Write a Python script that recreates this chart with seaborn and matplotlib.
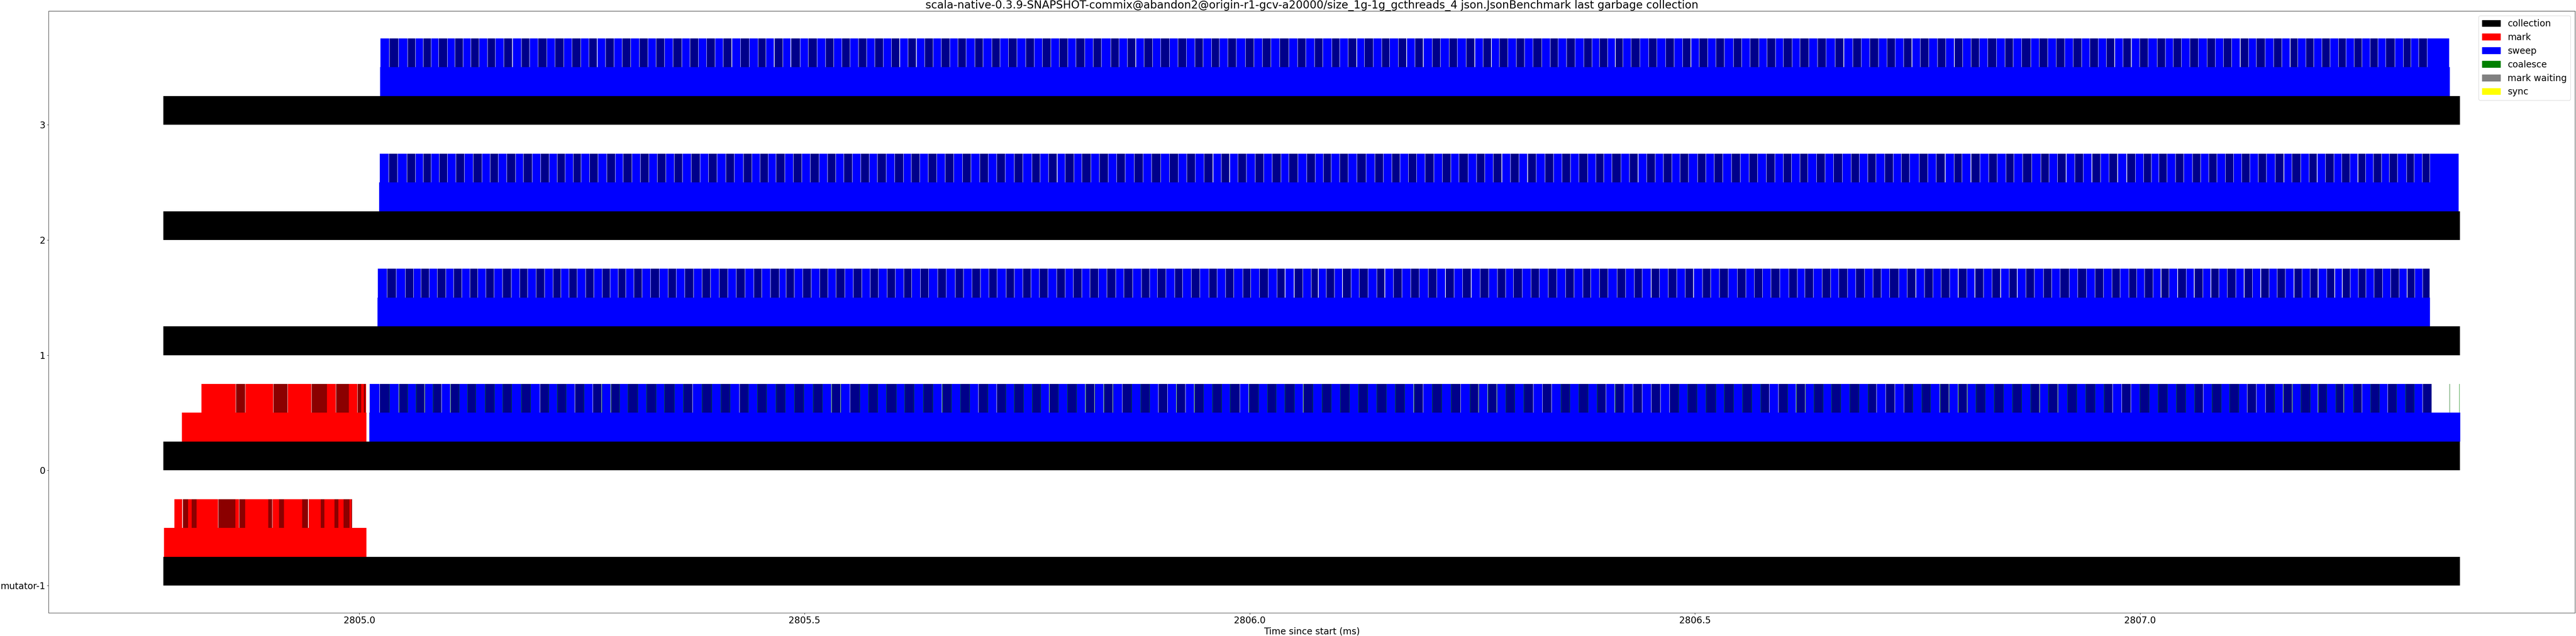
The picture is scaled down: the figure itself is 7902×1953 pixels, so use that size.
import matplotlib
matplotlib.use("Agg")
import matplotlib.pyplot as plt
import matplotlib.patches as mpatches
import numpy as np
import seaborn as sns

title = ("scala-native-0.3.9-SNAPSHOT-commix@abandon2@origin-r1-gcv-a20000/"
         "size_1g-1g_gcthreads_4 json.JsonBenchmark last garbage collection")

# threads (y position) and their tick labels
thread_ids = [-1, 0, 1, 2, 3]
thread_labels = ["mutator-1", "0", "1", "2", "3"]

# whole collection (ms since start), same on every thread
collection_start = 2804.780
collection_end = 2807.359

# mark phase per thread
mark_threads = [-1, 0]
mark_phase_start = [2804.7807, 2804.8008]
mark_phase_end = [2805.0081, 2805.0079]

# mark batches (ms)
mark_batch_start_m1 = [2804.7922, 2804.8020, 2804.8078, 2804.8116, 2804.8174, 2804.8419,
                       2804.8608, 2804.8653, 2804.8716, 2804.8979, 2804.9024, 2804.9098,
                       2804.9154, 2804.9360, 2804.9430, 2804.9566, 2804.9607, 2804.9722,
                       2804.9766, 2804.9825, 2804.9890, 2804.9913]
mark_batch_end_m1 = [2804.8011, 2804.8078, 2804.8116, 2804.8174, 2804.8415, 2804.8608,
                     2804.8650, 2804.8716, 2804.8979, 2804.9022, 2804.9098, 2804.9154,
                     2804.9360, 2804.9425, 2804.9566, 2804.9607, 2804.9722, 2804.9766,
                     2804.9825, 2804.9890, 2804.9913, 2804.9920]
mark_batch_start_0 = [2804.8228, 2804.8616, 2804.8723, 2804.9038, 2804.9199, 2804.9465,
                      2804.9637, 2804.9740, 2804.9883, 2804.9981, 2805.0023, 2805.0052,
                      2805.0070]
mark_batch_end_0 = [2804.8613, 2804.8716, 2804.9033, 2804.9194, 2804.9460, 2804.9637,
                    2804.9737, 2804.9883, 2804.9978, 2805.0023, 2805.0052, 2805.0070,
                    2805.0076]

# sweep phase per thread
sweep_threads = [0, 1, 2, 3]
sweep_phase_start = [2805.0114, 2805.0204, 2805.0222, 2805.0235]
sweep_phase_end = [2807.3594, 2807.3256, 2807.3576, 2807.3477]

# sweep batches: first start (ms) and durations (us)
sweep_batch_first = [2805.01168, 2805.02071, 2805.02282, 2805.02372]

sweep_dur_0 = [
    11.44, 10.84, 10.84, 9.64, 9.64, 9.64, 9.34, 9.64, 9.94, 9.64, 9.64, 9.03, 10.54, 10.24, 9.64,
    9.94, 10.84, 10.24, 10.84, 9.64, 9.64, 9.94, 9.94, 10.24, 9.94, 9.94, 10.24, 9.64, 9.64, 10.84,
    9.94, 10.54, 9.64, 10.84, 10.24, 10.54, 10.54, 10.84, 10.24, 10.24, 10.84, 9.64, 10.24, 10.24,
    10.84, 10.24,
    10.54, 10.24, 10.54, 10.24, 10.54, 10.24, 10.54, 10.84, 9.94, 10.24, 9.94, 10.84, 9.64, 10.24,
    10.54, 10.54, 10.54, 10.54, 10.24, 10.24, 9.94, 10.54, 9.94, 10.24, 9.34, 10.24, 9.94, 9.64,
    9.64, 9.94, 10.24, 10.24, 10.24, 10.24, 10.24, 10.24, 10.54, 10.54, 10.24, 9.94, 9.94, 10.24,
    9.94, 10.24, 9.94, 9.94,
    10.24, 10.24, 9.64, 11.14, 9.94, 10.84, 10.24, 9.34, 9.94, 10.54, 10.24, 10.84, 10.24, 10.24,
    10.24, 10.24, 10.24, 10.24, 10.24, 10.54, 10.24, 10.24, 10.54, 10.54, 10.24, 10.54, 10.54,
    10.84, 10.54, 9.64, 10.24, 10.24, 9.94, 9.94, 10.24, 10.84, 10.24, 10.24, 10.54, 9.94, 10.24,
    10.24, 10.24, 9.94, 9.94, 10.24,
    10.24, 10.24, 10.24, 10.24, 10.24, 10.24, 10.24, 10.24, 10.24, 10.84, 9.64, 10.24, 10.24,
    10.24, 10.24, 9.64, 10.24, 10.24, 9.64, 10.24, 9.64, 10.24, 9.64, 10.24, 10.24, 10.24, 10.24,
    9.64, 10.24, 10.24, 10.24, 9.64, 10.24, 9.64, 10.84, 10.24, 10.24, 10.24, 9.64, 10.24, 10.24,
    10.24, 10.24, 10.24, 10.24, 10.24, 9.64,
    10.84, 10.84, 10.24, 10.24, 10.24, 10.24, 9.64, 10.24, 10.24, 10.24, 10.24, 10.24, 10.24,
    10.24, 10.24, 10.24, 9.64, 9.64, 10.24, 9.64, 10.24, 9.64, 10.24, 10.24, 10.24, 9.64, 10.24,
    9.64, 10.24, 9.03, 9.64, 10.24, 9.03, 10.84, 9.64, 9.64, 9.64, 9.64, 9.64, 10.24, 9.64, 9.64,
    10.24,
]
sweep_dur_1 = [
    10.84, 10.24, 10.24, 9.03, 8.43, 9.03, 9.34, 9.34, 9.03, 9.03, 9.03, 9.03, 9.03, 9.03, 9.64,
    9.94, 9.34, 9.03, 9.34, 9.64, 9.34, 9.03, 9.03, 9.03, 9.64, 9.03, 9.64, 8.73, 9.34, 8.43, 9.03,
    9.03, 9.64, 9.94, 9.94, 9.03, 9.64, 9.64, 9.64, 9.64, 9.64, 9.64, 9.64, 9.64, 9.94, 9.03, 9.64,
    9.94,
    7.83, 9.03, 9.64, 9.34, 9.64, 9.03, 9.34, 9.64, 9.64, 9.64, 9.34, 9.34, 9.64, 9.34, 9.34, 9.03,
    9.64, 9.34, 10.24, 9.34, 10.24, 9.34, 9.34, 9.64, 9.64, 9.03, 10.24, 9.03, 9.64, 9.03, 9.64,
    9.64, 9.64, 9.64, 9.03, 9.64, 9.03, 9.64, 9.64, 9.64, 9.34, 9.94, 9.64, 9.34, 8.73, 9.64, 9.64,
    9.03, 9.64, 9.64,
    10.24, 9.03, 9.64, 9.03, 10.24, 9.03, 9.64, 9.94, 9.94, 9.03, 10.24, 9.64, 9.64, 7.83, 9.03,
    9.03, 9.03, 9.64, 9.34, 9.64, 9.94, 9.03, 9.64, 9.64, 9.94, 9.34, 10.24, 9.64, 9.64, 9.64,
    9.64, 9.64, 9.94, 9.64, 9.94, 9.03, 9.03, 9.64, 9.94, 9.34, 10.24, 9.34, 9.94, 9.64, 9.64,
    9.03, 9.64, 9.64, 10.24, 9.64,
    9.64, 9.03, 9.94, 9.34, 9.94, 9.34, 9.64, 9.34, 9.94, 9.34, 9.94, 9.64, 10.24, 9.64, 9.64,
    9.03, 9.64, 9.64, 10.24, 9.64, 8.43, 9.64, 9.64, 9.64, 9.03, 9.94, 9.34, 9.64, 9.64, 9.03,
    9.64, 10.24, 9.64, 9.64, 9.64, 9.64, 9.03, 9.64, 9.64, 9.64, 9.03, 9.64, 9.64, 9.64, 9.64,
    9.03, 9.64, 9.64, 10.24,
    9.03, 9.64, 10.24, 9.64, 9.64, 9.64, 9.64, 9.34, 9.34, 9.64, 9.03, 8.73, 9.34, 9.03, 9.03,
    9.64, 9.64, 9.03, 9.64, 9.03, 9.03, 9.64, 9.34, 9.34, 9.34, 9.34, 9.34, 9.03, 9.34, 9.64, 9.03,
    9.03, 9.03, 9.64, 9.03, 8.43, 9.03, 9.03, 8.43, 9.03, 9.64, 9.03, 9.64, 9.03, 8.73, 8.73, 7.83,
]
sweep_dur_2 = [
    10.54, 9.94, 10.54, 9.34, 8.73, 9.03, 9.03, 9.34, 9.34, 9.64, 9.64, 9.94, 9.34, 9.03, 9.64,
    9.94, 8.73, 9.94, 9.34, 9.64, 9.03, 8.73, 9.34, 8.73, 9.64, 9.34, 9.94, 9.34, 9.03, 9.64, 9.64,
    9.64, 9.34, 9.64, 9.34, 9.34, 9.94, 9.64, 9.64, 9.64, 9.64, 9.64, 10.24, 9.64, 9.03, 9.03, 9.03,
    9.64,
    9.64, 9.64, 9.34, 9.94, 9.64, 9.03, 9.03, 9.64, 9.64, 9.34, 9.34, 9.64, 9.64, 9.94, 8.73, 9.64,
    9.34, 9.64, 9.34, 9.64, 9.94, 9.64, 9.64, 9.64, 9.34, 9.64, 10.24, 9.64, 10.24, 9.03, 9.64,
    9.64, 9.03, 9.94, 8.73, 10.24, 9.64, 9.64, 9.64, 9.64, 10.24, 9.64, 9.64, 10.24, 9.94, 9.94,
    9.34, 9.64, 9.94,
    9.94, 9.34, 9.34, 9.34, 9.64, 9.64, 9.64, 9.64, 9.64, 9.03, 10.24, 9.64, 9.64, 9.03, 9.03,
    9.34, 9.64, 9.94, 10.24, 9.64, 9.64, 9.64, 9.03, 9.64, 9.03, 9.64, 9.64, 9.64, 9.64, 9.03,
    10.24, 9.64, 9.03, 9.64, 9.64, 9.64, 9.64, 9.64, 9.64, 9.94, 9.64, 9.34, 9.64, 9.34, 9.94,
    9.34, 8.73, 9.03, 10.24,
    9.64, 9.64, 9.64, 9.64, 9.03, 9.64, 9.03, 9.64, 10.24, 9.03, 9.64, 9.64, 9.64, 9.94, 9.94,
    9.64, 9.64, 9.64, 9.64, 9.03, 9.34, 9.03, 9.64, 9.64, 9.64, 9.94, 9.64, 9.34, 9.34, 9.34, 9.94,
    9.34, 9.34, 9.03, 10.84, 9.64, 9.64, 9.94, 9.94, 9.03, 9.94, 9.94, 9.94, 9.64, 9.94, 8.73,
    9.94, 10.24, 10.24,
    9.03, 9.64, 9.64, 9.64, 9.64, 9.64, 9.64, 9.64, 9.64, 10.24, 9.64, 9.34, 8.73, 8.43, 9.03,
    9.64, 9.03, 9.94, 9.03, 9.34, 9.03, 9.64, 9.03, 9.34, 9.03, 9.64, 9.03, 9.94, 9.64, 9.03, 9.94,
    9.34, 9.03, 9.34, 9.64, 8.73, 9.03, 9.03, 8.73, 8.73, 9.03, 8.73, 9.34, 10.24, 8.43, 9.03,
    8.43, 32.52,
]
sweep_dur_3 = [
    10.24, 10.24, 10.24, 8.73, 8.73, 9.03, 8.43, 9.64, 8.73, 9.03, 8.73, 9.34, 9.34, 8.73, 9.64,
    9.64, 9.94, 9.34, 9.34, 9.94, 9.34, 9.64, 9.34, 9.94, 9.03, 9.34, 9.34, 9.64, 9.03, 9.64, 9.64,
    9.64, 9.03, 9.64, 9.64, 9.64, 9.34, 9.34, 9.34, 9.34, 9.34, 9.64, 9.64, 9.94, 9.94, 8.73, 9.34,
    9.64,
    9.03, 10.54, 9.03, 9.94, 9.34, 9.34, 9.03, 9.34, 9.34, 9.34, 9.03, 9.64, 9.03, 9.34, 9.34,
    9.34, 9.34, 9.64, 9.03, 9.64, 9.03, 9.03, 9.94, 9.34, 9.64, 9.34, 9.34, 9.64, 9.94, 9.34, 9.34,
    9.34, 9.64, 9.34, 9.34, 9.94, 9.34, 9.34, 10.54, 9.03, 9.64, 9.34, 9.34, 9.34, 9.34, 9.94,
    9.34, 9.64, 9.34, 9.34,
    9.34, 9.03, 9.34, 9.64, 10.24, 9.34, 9.64, 9.64, 9.94, 9.94, 9.94, 9.34, 9.94, 9.03, 10.24,
    8.73, 9.64, 9.64, 8.73, 9.64, 9.64, 8.73, 9.94, 9.34, 9.34, 9.34, 9.94, 9.34, 9.94, 9.03, 9.94,
    9.64, 9.34, 9.34, 9.03, 9.34, 9.64, 9.03, 9.64, 9.94, 9.34, 9.03, 9.34, 9.64, 9.94, 9.03, 8.43,
    9.03, 8.73, 8.73,
    9.03, 9.94, 9.94, 9.03, 9.94, 9.34, 9.64, 9.34, 9.34, 9.64, 9.03, 9.64, 10.24, 9.03, 9.64,
    9.64, 9.34, 9.34, 9.03, 9.64, 9.03, 9.64, 9.94, 9.64, 10.24, 9.64, 10.24, 9.34, 9.64, 9.64,
    9.64, 9.34, 9.34, 9.34, 9.34, 9.64, 9.64, 9.34, 9.64, 9.34, 9.64, 9.03, 9.64, 9.64, 9.64, 9.03,
    9.64, 10.24, 9.64, 9.34,
    9.64, 9.64, 9.34, 9.64, 9.03, 9.64, 9.03, 9.34, 9.34, 9.34, 9.34, 9.64, 10.24, 9.03, 8.73,
    9.34, 9.34, 9.64, 9.94, 9.03, 9.03, 9.34, 9.64, 9.34, 8.73, 9.94, 9.64, 9.03, 9.34, 8.73, 9.03,
    8.73, 9.34, 9.03, 9.64, 8.43, 9.03, 8.73, 9.34, 8.73, 8.73, 10.24, 9.34, 8.73, 8.73, 9.34,
    24.99,
]
sweep_durations = [sweep_dur_0, sweep_dur_1, sweep_dur_2, sweep_dur_3]

# coalesce on thread 0 after the last sweep batch (ms)
coalesce_tail = [2807.3476, 2807.3583]

legend_names = ["collection", "mark", "sweep", "coalesce", "mark waiting", "sync"]
legend_colors = ["black", "red", "blue", "green", "grey", "yellow"]

# style
sns.set_style("ticks", rc={
    "axes.edgecolor": "black", "text.color": "black", "axes.labelcolor": "black",
    "xtick.color": "black", "ytick.color": "black",
})
plt.rcParams["font.family"] = ["DejaVu Sans"]
plt.rcParams["font.size"] = 20

fig = plt.figure(figsize=(79.02, 19.53), dpi=100)
ax = fig.add_axes([0.01886, 0.03635, 0.98076, 0.94624])
ax.use_sticky_edges = False

h = 0.25
gap = 0.0004  # ms, white line between batches

# collection
ax.barh(thread_ids, collection_end - collection_start, left=collection_start,
        height=h, align="edge", color="black", linewidth=0)

# phases
for t, s, e in zip(mark_threads, mark_phase_start, mark_phase_end):
    ax.barh(t + h, e - s, left=s, height=h, align="edge", color="red", linewidth=0)
for t, s, e in zip(sweep_threads, sweep_phase_start, sweep_phase_end):
    ax.barh(t + h, e - s, left=s, height=h, align="edge", color="blue", linewidth=0)

# mark batches
for t, st, en in [(-1, mark_batch_start_m1, mark_batch_end_m1),
                  (0, mark_batch_start_0, mark_batch_end_0)]:
    st = np.array(st)
    en = np.array(en)
    cols = ["red" if i % 2 == 0 else "darkred" for i in range(len(st))]
    ax.barh(np.full(len(st), t + 2 * h), en - st, left=st, height=h,
            align="edge", color=cols, linewidth=0)

# sweep batches
for t, first, durs in zip(sweep_threads, sweep_batch_first, sweep_durations):
    d = np.array(durs) / 1000.0
    starts = first + np.concatenate([[0], np.cumsum(d)[:-1]])
    cols = ["blue" if i % 2 == 0 else "darkblue" for i in range(len(d))]
    ax.barh(np.full(len(d), t + 2 * h), d - gap, left=starts, height=h,
            align="edge", color=cols, linewidth=0)
    if t == 0:
        co = np.concatenate([starts[1:] - gap * 0.7, coalesce_tail])
        ccols = ["green" if i % 2 == 0 else "darkgreen" for i in range(len(co))]
        ax.barh(np.full(len(co), t + 2 * h), 0.0003, left=co, height=h,
                align="edge", color=ccols, linewidth=0)

ax.set_yticks(thread_ids)
ax.set_yticklabels(thread_labels)
ax.set_xlabel("Time since start (ms)")
ax.set_title(title)

handles = [mpatches.Patch(color=c, label=n) for n, c in zip(legend_names, legend_colors)]
ax.legend(handles=handles, loc="upper right")

fig.savefig("out.png", dpi=100)
